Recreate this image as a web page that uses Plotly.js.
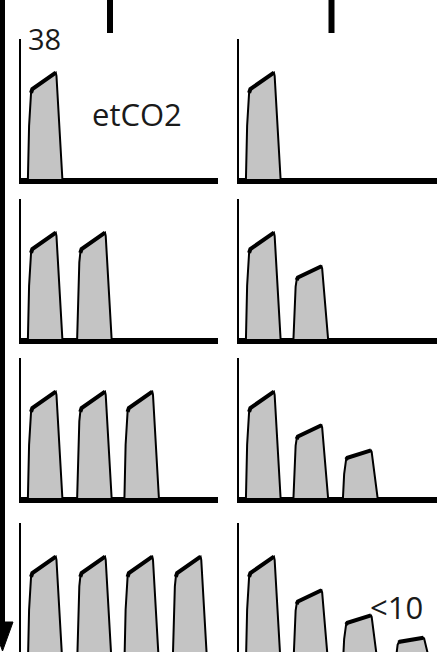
<!DOCTYPE html>
<html>
<head>
<meta charset="utf-8">
<script src="https://cdn.plot.ly/plotly-3.0.1.min.js"></script>
<style>html,body{margin:0;padding:0;background:#fff;}#chart{width:443px;height:652px;}</style>
</head>
<body>
<div id="chart"></div>
<script>
// ---- data (etCO2 in mmHg, time in s) ----
const rowsLabel = ["1 breath", "2 breaths", "3 breaths", "4 breaths"];
const peakLeft = [38, 38, 38, 38];          // constant etCO2 (left column)
const peakRight = [38, 26, 17, 9];          // falling etCO2 (right column)
const startLeft = [0.7, 5.7, 10.5, 15.4];   // breath onsets, left column
const startRight = [0.7, 5.5, 10.5, 15.8];  // breath onsets, right column
// capnogram shape: time offset (s) and fraction of the peak value
const waveT = [0, 0.12, 0.22, 0.32, 0.45, 2.83, 2.9, 3.5];
const waveFrac = [0, 0.5, 0.72, 0.81, 0.845, 1.0, 0.97, 0];
const plateauIdx = [3, 5];
const labelTop = "38";
const labelName = "etCO2";
const labelLow = "<10";
const timeMax = 20;
const co2Max = 50;

// ---- layout helpers ----
const W = 443, H = 652;
const px = x => x / W;
const py = y => 1 - y / H;
const rowBase = [179, 339, 498, 663];
const rowHeight = 140;
const colLeft = [21, 239];
const colRight = [218, 437];

const traces = [];
const layout = {
  width: W, height: H,
  margin: {l: 0, r: 0, t: 0, b: 0},
  paper_bgcolor: "#ffffff", plot_bgcolor: "rgba(0,0,0,0)",
  showlegend: false,
  shapes: [], annotations: []
};

for (let r = 0; r < 4; r++) {
  for (let c = 0; c < 2; c++) {
    const i = r * 2 + c + 1;
    const sfx = i > 1 ? String(i) : "";
    const xa = "x" + sfx, ya = "y" + sfx;
    const peaks = c === 0 ? peakLeft : peakRight;
    const starts = c === 0 ? startLeft : startRight;
    const n = r + 1;
    const xs = [0], ys = [0], pxs = [], pys = [];
    for (let k = 0; k < n; k++) {
      for (let j = 0; j < waveT.length; j++) {
        xs.push(starts[k] + waveT[j]);
        ys.push(peaks[k] * waveFrac[j]);
      }
      for (let j = plateauIdx[0]; j <= plateauIdx[1]; j++) {
        pxs.push(starts[k] + waveT[j]);
        pys.push(peaks[k] * waveFrac[j]);
      }
      pxs.push(null); pys.push(null);
    }
    xs.push(timeMax); ys.push(0);
    traces.push({
      type: "scatter", mode: "lines", x: xs, y: ys, xaxis: xa, yaxis: ya,
      fill: "tozeroy", fillcolor: "#c4c4c4",
      line: {color: "#000", width: 2}, hoverinfo: "skip", name: rowsLabel[r]
    });
    traces.push({
      type: "scatter", mode: "lines", x: pxs, y: pys, xaxis: xa, yaxis: ya,
      line: {color: "#000", width: 4}, hoverinfo: "skip"
    });
    // small hook at the top of the CO2 axis
    traces.push({
      type: "scatter", mode: "lines+markers", x: [-0.4, -0.3, -0.12, 0], y: [49.1, 50.1, 50.4, 50],
      xaxis: xa, yaxis: ya, cliponaxis: false,
      marker: {color: "#000", size: [5, 0, 0, 0]},
      line: {color: "#000", width: 2.5}, hoverinfo: "skip"
    });

    const base = rowBase[r], top = base - rowHeight;
    let y0 = py(base), rmin = 0;
    if (base > H) { y0 = 0; rmin = (base - H) * co2Max / rowHeight; }
    layout["xaxis" + sfx] = {
      domain: [px(colLeft[c]), px(colRight[c])], anchor: ya,
      range: [0, timeMax], showgrid: false, zeroline: false,
      showticklabels: false, ticks: "", fixedrange: true,
      showline: base <= H, linecolor: "#000", linewidth: 5
    };
    layout["yaxis" + sfx] = {
      domain: [y0, py(top)], anchor: xa,
      range: [rmin, co2Max], showgrid: false, zeroline: false,
      showticklabels: false, ticks: "", fixedrange: true,
      showline: true, linecolor: "#000", linewidth: 2
    };
  }
}

// time arrow on the left
layout.shapes.push({type: "line", xref: "paper", yref: "paper",
  x0: px(2.5), x1: px(2.5), y0: py(0), y1: py(628), line: {color: "#000", width: 5}});
layout.shapes.push({type: "path", xref: "paper", yref: "paper",
  path: `M ${px(-8)},${py(622)} L ${px(13)},${py(622)} L ${px(2.5)},${py(651)} Z`,
  fillcolor: "#000", line: {color: "#000", width: 1}});
// top markers
[110, 331.5].forEach(x => layout.shapes.push({type: "line", xref: "paper", yref: "paper",
  x0: px(x), x1: px(x), y0: py(0), y1: py(33), line: {color: "#000", width: 6}}));

const font = "'Open Sans', 'Liberation Sans', sans-serif";
layout.annotations.push({text: labelTop, xref: "paper", yref: "paper", x: px(26), y: py(38),
  xanchor: "left", yanchor: "middle", showarrow: false, font: {family: font, size: 29, color: "#1a1a1a"}});
layout.annotations.push({text: labelName, xref: "paper", yref: "paper", x: px(137), y: py(114),
  xanchor: "center", yanchor: "middle", showarrow: false, font: {family: font, size: 31, color: "#1a1a1a"}});
layout.annotations.push({text: labelLow, xref: "paper", yref: "paper", x: px(396), y: py(607),
  xanchor: "center", yanchor: "middle", showarrow: false, font: {family: font, size: 31, color: "#1a1a1a"}});

Plotly.newPlot("chart", traces, layout, {staticPlot: true, displayModeBar: false});
</script>
</body>
</html>
